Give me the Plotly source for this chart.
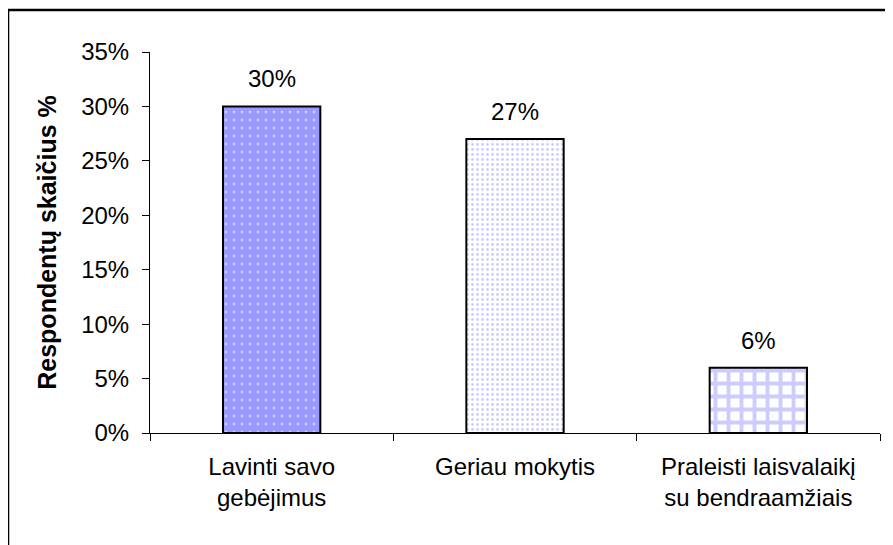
import plotly.graph_objects as go

categories = ["Lavinti savo<br>gebėjimus", "Geriau mokytis", "Praleisti laisvalaikį<br>su bendraamžiais"]
values = [0.30, 0.27, 0.06]
value_labels = ["30%", "27%", "6%"]
y_ticks = [0, 0.05, 0.10, 0.15, 0.20, 0.25, 0.30, 0.35]
y_tick_labels = ["0%", "5%", "10%", "15%", "20%", "25%", "30%", "35%"]

BLUE = "#9999FF"
FONT = "Liberation Sans, Arial, sans-serif"

patterns = [
    dict(shape=".", bgcolor=BLUE, fgcolor="white", size=8, solidity=0.1),
    dict(shape=".", bgcolor="white", fgcolor=BLUE, size=5, solidity=0.25),
    dict(shape="+", bgcolor="white", fgcolor=BLUE, size=13, solidity=0.5),
]
bg_colors = [BLUE, "white", "white"]

fig = go.Figure()
for c, v, p, bgc in zip(categories, values, patterns, bg_colors):
    fig.add_trace(go.Bar(
        x=[c],
        y=[v],
        width=0.4,
        marker=dict(color=bgc, line=dict(color="black", width=2), pattern=p),
        hoverinfo="skip",
    ))

for c, v, t in zip(categories, values, value_labels):
    fig.add_annotation(x=c, y=v, text=t, showarrow=False, yanchor="bottom",
                       yshift=12, font=dict(family=FONT, size=24, color="black"))

fig.add_shape(type="rect", xref="paper", yref="paper",
              x0=-0.1945, x1=1.05, y0=-0.35, y1=1.110,
              line=dict(color="black", width=2.5), fillcolor="rgba(0,0,0,0)")

fig.update_layout(
    width=885, height=537,
    margin=dict(l=142, r=13, t=44, b=112),
    paper_bgcolor="white", plot_bgcolor="white",
    showlegend=False,
    font=dict(family=FONT, size=24, color="black"),
    bargap=0.6, barmode="overlay",
)
fig.update_xaxes(
    automargin=False,
    showline=True, linecolor="black", linewidth=1,
    ticks="outside", ticklen=7, tickcolor="black", tickson="boundaries",
    tickfont=dict(family=FONT, size=24, color="black"),
    ticklabelstandoff=12,
    showgrid=False,
)
fig.update_yaxes(
    automargin=False,
    range=[0, 0.35], tickvals=y_ticks, ticktext=y_tick_labels,
    showline=True, linecolor="black", linewidth=1,
    ticks="outside", ticklen=7, tickcolor="black",
    ticklabelstandoff=8,
    showgrid=False, zeroline=False,
    tickfont=dict(family=FONT, size=24, color="black"),
    title=dict(text="<b>Respondentų skaičius %</b>", font=dict(family=FONT, size=25, color="black"), standoff=17),
)

fig.write_html("out.html")
